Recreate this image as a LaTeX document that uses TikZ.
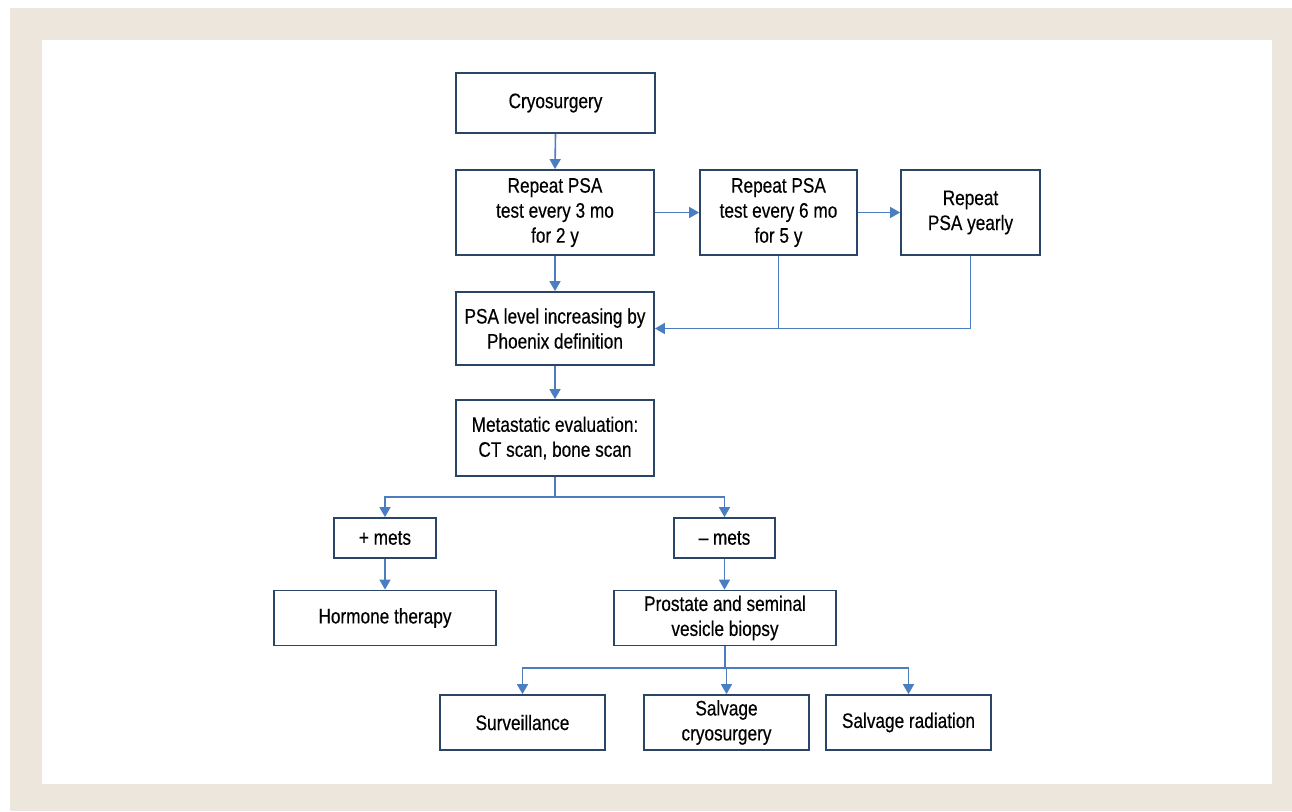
\documentclass[tikz,border=0pt]{standalone}
\usepackage{fontspec}
\setmainfont[FakeStretch=0.82,FakeBold=0.4]{Liberation Sans}
\usetikzlibrary{arrows.meta}
\definecolor{beige}{HTML}{EDE6DC}
\definecolor{navy}{HTML}{2B4566}
\definecolor{arrowblue}{HTML}{4A7EC0}
\tikzset{
  box/.style={draw=navy, line width=1.8pt, fill=white, align=center, inner sep=2pt,
    font=\fontsize{21}{25}\selectfont, text=black},
  conn/.style={draw=arrowblue, line width=1.6pt},
  arr/.style={conn, -{Triangle[length=10pt,width=11pt]}}
}
\begin{document}
\begin{tikzpicture}[x=1pt,y=-1pt]
\useasboundingbox (0,0) rectangle (1292,811);
\fill[beige] (10,8) rectangle (1292,811);
\fill[white] (42,40) rectangle (1272,784);

\node[box, minimum width=199pt, minimum height=60pt] (cryo) at (555.5,103) {Cryosurgery};
\node[box, minimum width=198pt, minimum height=85pt] (r3) at (555,212.5) {Repeat PSA\\test every 3 mo\\for 2 y};
\node[box, minimum width=157pt, minimum height=85pt] (r6) at (778.5,212.5) {Repeat PSA\\test every 6 mo\\for 5 y};
\node[box, minimum width=139pt, minimum height=85pt] (ry) at (970.5,212.5) {Repeat\\PSA yearly};
\node[box, minimum width=198pt, minimum height=73pt] (psa) at (555,328.5) {PSA level increasing by\\Phoenix definition};
\node[box, minimum width=198pt, minimum height=76pt] (meta) at (555,438) {Metastatic evaluation:\\CT scan, bone scan};
\node[box, minimum width=102pt, minimum height=40pt] (pm) at (385,538) {+ mets};
\node[box, minimum width=101pt, minimum height=40pt] (mm) at (724.5,538) {– mets};
\node[box, minimum width=222pt, minimum height=55pt] (horm) at (385,618) {Hormone therapy};
\node[box, minimum width=222pt, minimum height=55pt] (biop) at (725,618) {Prostate and seminal\\vesicle biopsy};
\node[box, minimum width=165pt, minimum height=55pt] (surv) at (522.5,722.5) {Surveillance};
\node[box, minimum width=165pt, minimum height=55pt] (scryo) at (726.5,722.5) {Salvage\\cryosurgery};
\node[box, minimum width=165pt, minimum height=55pt] (srad) at (908.5,722.5) {Salvage radiation};

\coordinate (j1) at (555,497);
\coordinate (j2) at (725,668);

\draw[arr] (cryo.south) -- (r3.north);
\draw[arr] (r3.east) -- (r6.west);
\draw[arr] (r6.east) -- (ry.west);
\draw[arr] (r3.south) -- (psa.north);
\draw[conn] (r6.south) -- (r6.south |- psa.east);
\draw[arr] (ry.south) |- (psa.east);
\draw[arr] (psa.south) -- (meta.north);
\draw[conn] (meta.south) -- (j1);
\draw[arr] (j1) -| (pm.north);
\draw[arr] (j1) -| (mm.north);
\draw[arr] (pm.south) -- (horm.north);
\draw[arr] (mm.south) -- (mm.south |- biop.north);
\draw[conn] (biop.south) -- (j2);
\draw[arr] (j2) -| (surv.north);
\draw[arr] (j2) -| (scryo.north);
\draw[arr] (j2) -| (srad.north);
\end{tikzpicture}
\end{document}
